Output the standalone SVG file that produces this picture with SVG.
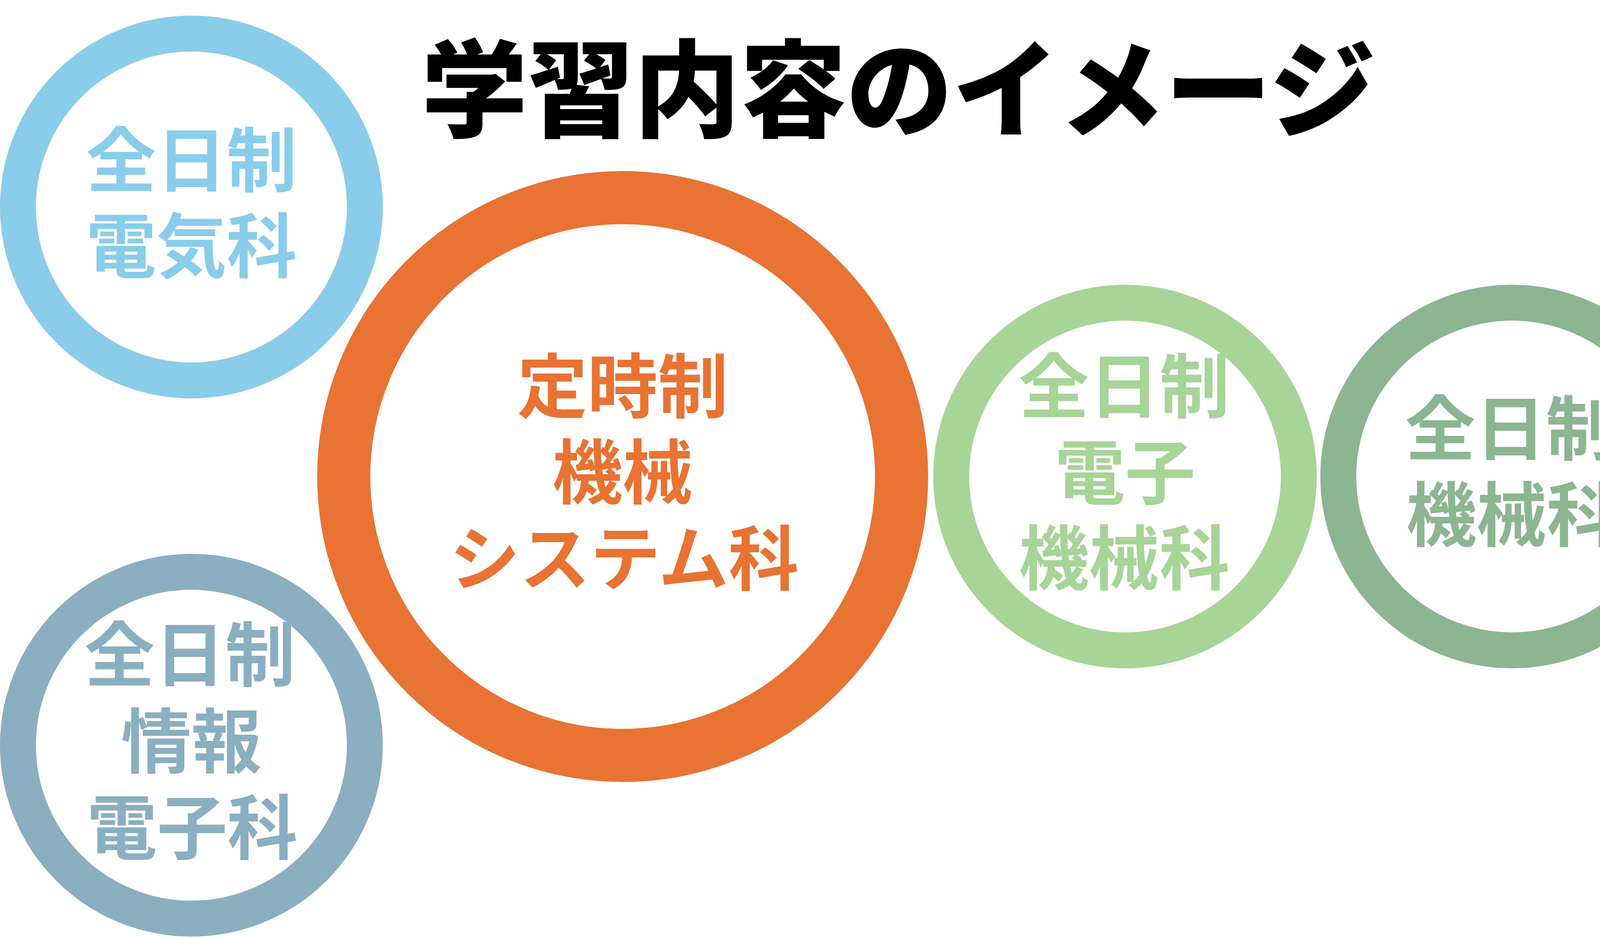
<svg xmlns="http://www.w3.org/2000/svg" width="4362" height="2399" viewBox="0 0 4362 2399">
<style>
.ring{fill:none;stroke-width:92}
.lbl{font-family:"Noto Sans CJK JP","Noto Sans CJK SC",sans-serif;font-weight:700;font-size:180px;text-anchor:middle}
.title{font-family:"Noto Sans CJK JP","Noto Sans CJK SC",sans-serif;font-weight:900;font-size:272px;text-anchor:middle;fill:#000}
.c-blue{stroke:#89CDEA}.t-blue{fill:#89CDEA}
.c-orange{stroke:#E87333}.t-orange{fill:#E87333}
.c-lgreen{stroke:#A7D497}.t-lgreen{fill:#A7D497}
.c-dgreen{stroke:#8CB591}.t-dgreen{fill:#8CB591}
.c-gray{stroke:#8AAFC1}.t-gray{fill:#8AAFC1}
</style>
<rect width="4362" height="2399" fill="#fff"/>
<g id="title"><text class="title" x="2300" y="330">学習内容のイメージ</text></g>
<g id="connectors"></g>
<g id="node-denki">
<circle class="ring c-blue" cx="490" cy="530" r="444"/>
<text class="lbl t-blue" x="490" y="476">全日制</text>
<text class="lbl t-blue" x="490" y="696">電気科</text>
</g>
<g id="node-teijisei">
<circle class="ring c-orange" cx="1594" cy="1220" r="714" style="stroke-width:136"/>
<text class="lbl t-orange" x="1594" y="1055">定時制</text>
<text class="lbl t-orange" x="1594" y="1275">機械</text>
<text class="lbl t-orange" x="1598" y="1496">システム科</text>
</g>
<g id="node-denshikikai">
<circle class="ring c-lgreen" cx="2880" cy="1220" r="445"/>
<text class="lbl t-lgreen" x="2878" y="1055">全日制</text>
<text class="lbl t-lgreen" x="2880" y="1276">電子</text>
<text class="lbl t-lgreen" x="2878" y="1495">機械科</text>
</g>
<g id="node-kikai">
<circle class="ring c-dgreen" cx="3871" cy="1220" r="445"/>
<text class="lbl t-dgreen" x="3867" y="1163">全日制</text>
<text class="lbl t-dgreen" x="3870" y="1384">機械科</text>
</g>
<g id="node-johodenshi">
<circle class="ring c-gray" cx="490" cy="1908" r="444"/>
<text class="lbl t-gray" x="486" y="1742">全日制</text>
<text class="lbl t-gray" x="490" y="1964">情報</text>
<text class="lbl t-gray" x="492" y="2185">電子科</text>
</g>
</svg>
